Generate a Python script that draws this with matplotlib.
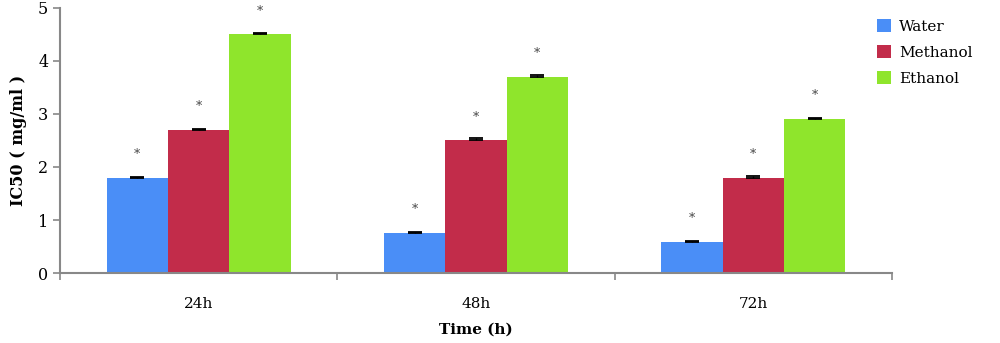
import numpy as np
import matplotlib
matplotlib.use('Agg')
import matplotlib.pyplot as plt

# data
times = ['24h', '48h', '72h']
solvents = ['Water', 'Methanol', 'Ethanol']
water = [1.8, 0.75, 0.58]
methanol = [2.7, 2.5, 1.8]
ethanol = [4.5, 3.7, 2.9]
water_err = [0.02, 0.02, 0.02]
methanol_err = [0.02, 0.04, 0.03]
ethanol_err = [0.02, 0.03, 0.03]

colors = ['#4a8ef7', '#c22c4a', '#8fe52c']
plt.rcParams['font.family'] = ['DejaVu Serif']

fig = plt.figure(figsize=(10, 3.43), dpi=100)
ax = fig.add_axes([0.06, 0.204, 0.832, 0.773])

x = np.arange(len(times))
width = 0.221
series = [(water, water_err), (methanol, methanol_err), (ethanol, ethanol_err)]
for i, (vals, errs) in enumerate(series):
    pos = x + (i - 1) * width
    ax.bar(pos, vals, width, color=colors[i], label=solvents[i], zorder=2)
    ax.errorbar(pos, vals, yerr=[np.zeros(len(errs)), errs], fmt='none',
                ecolor='black', elinewidth=1, capsize=5, capthick=1.3, zorder=3)
    # significance marks
    for p, v in zip(pos, vals):
        ax.text(p, v + 0.44, '*', ha='center', va='center', fontsize=9, color='#444444')

ax.set_xlim(-0.5, 2.5)
ax.set_ylim(0, 5)
ax.set_xticks(x)
ax.set_xticklabels(times, fontsize=11)
ax.set_xticks([-0.5, 0.5, 1.5, 2.5], minor=True)
ax.tick_params(axis='x', which='major', length=0, pad=17)
ax.tick_params(axis='x', which='minor', length=5, color='#888888', width=1.2)
ax.set_yticks(range(6))
ax.tick_params(axis='y', length=5, color='#888888', width=1.2, labelsize=11.5)

for s in ['top', 'right']:
    ax.spines[s].set_visible(False)
for s in ['left', 'bottom']:
    ax.spines[s].set_color('#888888')
    ax.spines[s].set_linewidth(1.5)

ax.set_xlabel('Time (h)', fontsize=11, fontweight='bold', labelpad=9)
ax.set_ylabel('IC50 ( mg/ml )', fontsize=11.5, fontweight='bold', labelpad=8)

ax.legend(loc='upper left', bbox_to_anchor=(0.966, 1.01), frameon=False, fontsize=11,
          handlelength=0.9, handleheight=0.9, handletextpad=0.5, labelspacing=0.75)

fig.savefig('out.png', dpi=100)
